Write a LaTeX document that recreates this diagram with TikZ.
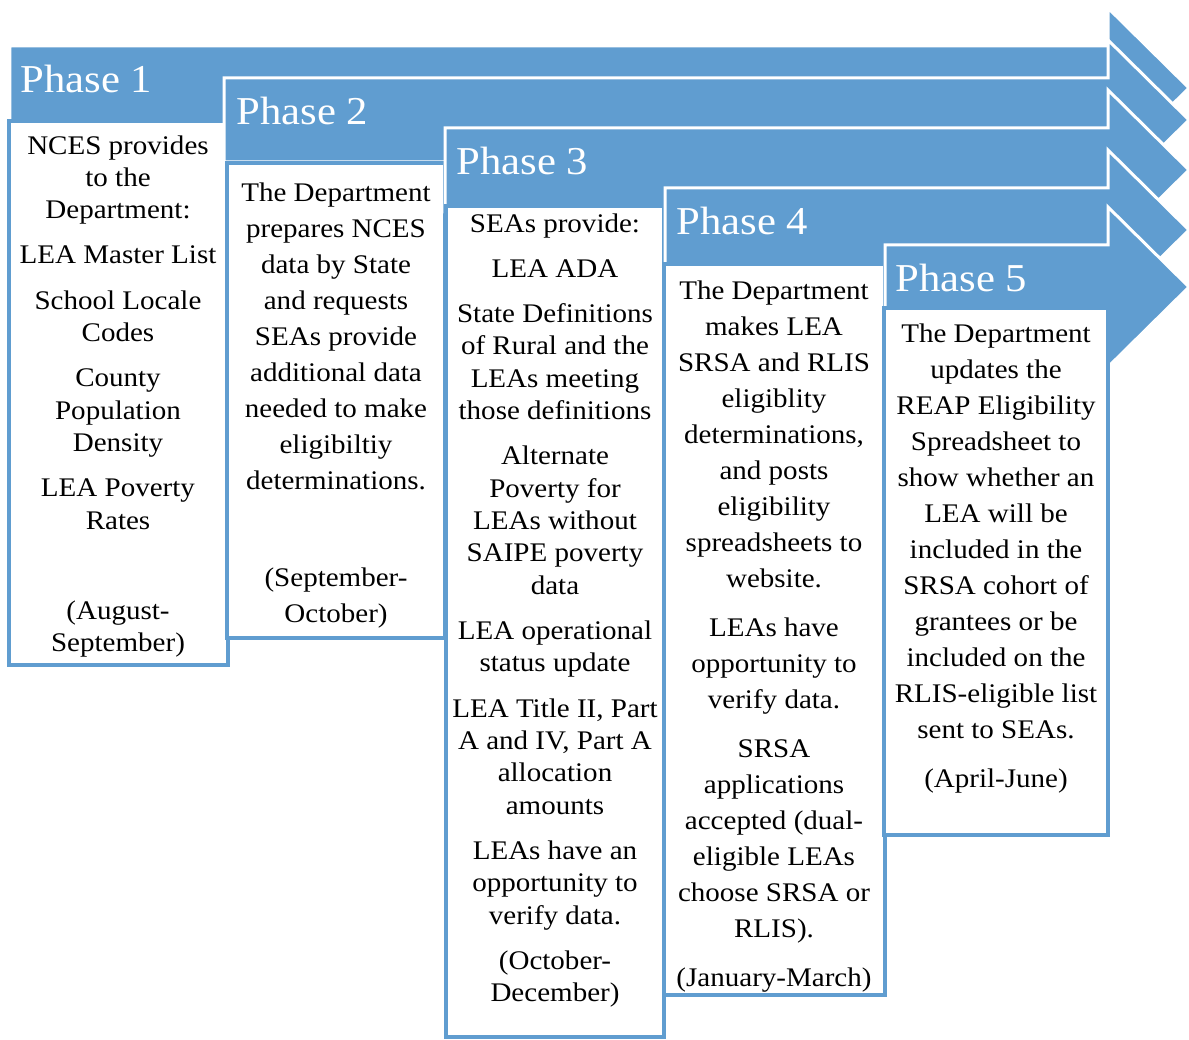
\documentclass[tikz,border=0pt]{standalone}
\usepackage{fontspec}
\setmainfont{Liberation Serif}[FakeStretch=1.08]
\definecolor{phaseblue}{RGB}{96,157,208}
\tikzset{
  phasebar/.style={fill=phaseblue, draw=white, line width=0.06cm},
  phasebox/.style={fill=white, draw=phaseblue, line width=0.075cm},
  phasetitle/.style={anchor=base west, inner sep=0, text=white, font=\fontsize{22.5}{26}\selectfont},
  phasetext/.style={anchor=north, inner sep=0, align=center},
  tightlines/.style={font=\fontsize{15.3}{18.4}\selectfont},
  widelines/.style={font=\fontsize{15.3}{20.5}\selectfont}
}
\begin{document}
\begin{tikzpicture}[x=0.02cm, y=-0.02cm]
  \useasboundingbox (0,0) rectangle (1189,1040);

  \filldraw[phasebar] (10,46) -- (1108,46) -- (1108,8) -- (1189,88) -- (1108,168) -- (1108,130) -- (10,130) -- cycle;
  \node[phasetitle] (title1) at (20,93) {Phase 1};
  \filldraw[phasebox] (9,121) rectangle (228,665);
  \node[phasetext, tightlines] (text1) at (118,135)
    {NCES provides\\to the\\Department:\\[7.4pt]
     LEA Master List\\[7.4pt]
     School Locale\\Codes\\[7.4pt]
     County\\Population\\Density\\[7.4pt]
     LEA Poverty\\Rates\\[33pt]
     (August-\\September)};

  \filldraw[phasebar] (224,78) -- (1108,78) -- (1108,40) -- (1189,120) -- (1108,200) -- (1108,162) -- (224,162) -- cycle;
  \node[phasetitle] (title2) at (236,125) {Phase 2};
  \filldraw[phasebox] (227,163) rectangle (445,638);
  \node[phasetext, widelines] (text2) at (336,182)
    {The Department\\prepares NCES\\data by State\\and requests\\SEAs provide\\additional data\\needed to make\\eligibiltiy\\determinations.\\[35pt]
     (September-\\October)};

  \filldraw[phasebar] (445,128) -- (1108,128) -- (1108,90) -- (1189,170) -- (1108,250) -- (1108,212) -- (445,212) -- cycle;
  \node[phasetitle] (title3) at (456,175) {Phase 3};
  \filldraw[phasebox] (446,206) rectangle (664,1037);
  \node[phasetext, tightlines] (text3) at (555,213)
    {SEAs provide:\\[7.4pt]
     LEA ADA\\[7.4pt]
     State Definitions\\of Rural and the\\LEAs meeting\\those definitions\\[7.4pt]
     Alternate\\Poverty for\\LEAs without\\SAIPE poverty\\data\\[7.4pt]
     LEA operational\\status update\\[7.4pt]
     LEA Title II, Part\\A and IV, Part A\\allocation\\amounts\\[7.4pt]
     LEAs have an\\opportunity to\\verify data.\\[7.4pt]
     (October-\\December)};

  \filldraw[phasebar] (665,188) -- (1108,188) -- (1108,150) -- (1189,230) -- (1108,310) -- (1108,272) -- (665,272) -- cycle;
  \node[phasetitle] (title4) at (676,235) {Phase 4};
  \filldraw[phasebox] (664,264) rectangle (885,995);
  \node[phasetext, widelines] (text4) at (774,280)
    {The Department\\makes LEA\\SRSA and RLIS\\eligiblity\\determinations,\\and posts\\eligibility\\spreadsheets to\\website.\\[7.4pt]
     LEAs have\\opportunity to\\verify data.\\[7.4pt]
     SRSA\\applications\\accepted (dual-\\eligible LEAs\\choose SRSA or\\RLIS).\\[7.4pt]
     (January-March)};

  \filldraw[phasebar] (885,245) -- (1108,245) -- (1108,207) -- (1189,287) -- (1108,367) -- (1108,329) -- (885,329) -- cycle;
  \node[phasetitle] (title5) at (895,292) {Phase 5};
  \filldraw[phasebox] (884,308) rectangle (1108,835);
  \node[phasetext, widelines] (text5) at (996,323)
    {The Department\\updates the\\REAP Eligibility\\Spreadsheet to\\show whether an\\LEA will be\\included in the\\SRSA cohort of\\grantees or be\\included on the\\RLIS-eligible list\\sent to SEAs.\\[7.4pt]
     (April-June)};
\end{tikzpicture}
\end{document}
